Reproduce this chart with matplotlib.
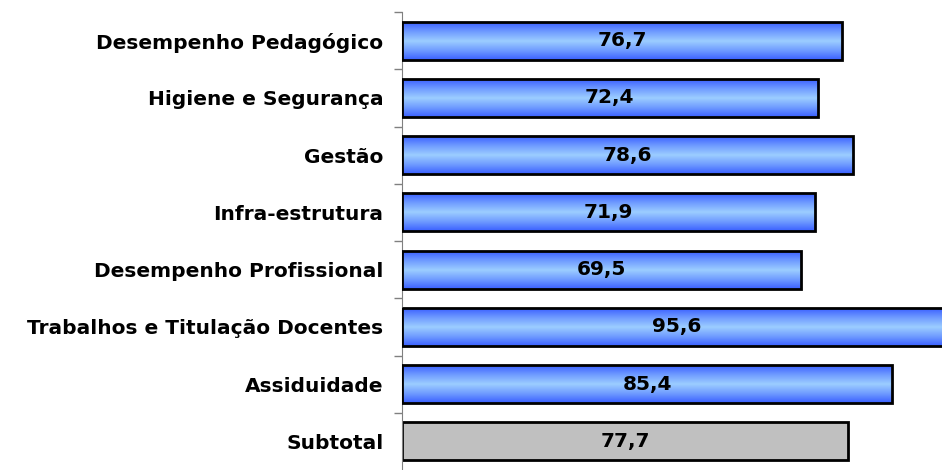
import numpy as np
import matplotlib.pyplot as plt
from matplotlib.colors import LinearSegmentedColormap

categories = ['Desempenho Pedagógico', 'Higiene e Segurança', 'Gestão', 'Infra-estrutura',
              'Desempenho Profissional', 'Trabalhos e Titulação Docentes', 'Assiduidade', 'Subtotal']
values = [76.7, 72.4, 78.6, 71.9, 69.5, 95.6, 85.4, 77.7]
value_labels = ['76,7', '72,4', '78,6', '71,9', '69,5', '95,6', '85,4', '77,7']

W, H = 942, 470
fig = plt.figure(figsize=(W / 100, H / 100), dpi=100)
# axes runs past the right edge so the longest bar gets cut like in the original
left, right, top, bottom = 402, 976, 12, 470
ax = fig.add_axes([left / W, 1 - bottom / H, (right - left) / W, (bottom - top) / H])

n = len(categories)
blue = LinearSegmentedColormap.from_list('b', ['#3a5fff', '#6f9bff', '#9ccdff', '#6f9bff', '#3a5fff'])
grad = np.linspace(0, 1, 256).reshape(-1, 1)
bar_h = 0.66

for i, (v, lab) in enumerate(zip(values, value_labels)):
    if categories[i] == 'Subtotal':
        ax.barh(i, v, height=bar_h, color='#c0c0c0', edgecolor='black', linewidth=2, zorder=2)
    else:
        bar = ax.barh(i, v, height=bar_h, color='none', edgecolor='black', linewidth=2, zorder=3)[0]
        im = ax.imshow(grad, cmap=blue, aspect='auto', zorder=2,
                       extent=[0, v, i + bar_h / 2, i - bar_h / 2])
        im.set_clip_path(bar)
    ax.text(v / 2, i, lab, ha='center', va='center', fontsize=14.5, fontweight='bold', zorder=4)

ax.set_xlim(0, 100)
ax.set_ylim(n - 0.5, -0.5)

ax.set_yticks(range(n))
ax.set_yticklabels(categories, fontsize=14.5, fontweight='bold')
ax.tick_params(axis='y', length=0, pad=13.5)
ax.set_yticks(np.arange(n) - 0.5, minor=True)
ax.tick_params(axis='y', which='minor', length=6, color='#808080', width=1)
ax.set_xticks([])
for s in ['top', 'right', 'bottom']:
    ax.spines[s].set_visible(False)
ax.spines['left'].set_color('#808080')

fig.savefig('out.png', dpi=100)
